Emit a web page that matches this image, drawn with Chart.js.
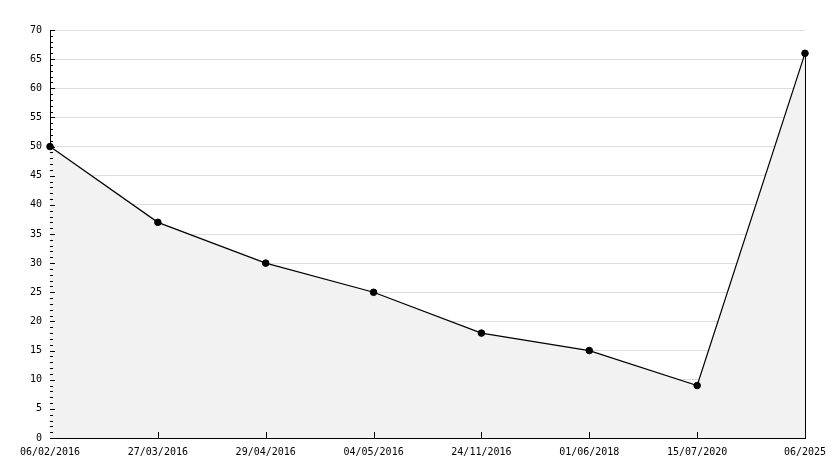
<!DOCTYPE html>
<html><head><meta charset="utf-8">
<script src="https://cdn.jsdelivr.net/npm/chart.js@4/dist/chart.umd.min.js"></script>
<style>html,body{margin:0;padding:0;background:#fff}#wrap{width:834px;height:468px}</style>
</head><body><div id="wrap"><canvas id="c" width="834" height="468"></canvas></div>
<script>
const categories = ["06/02/2016","27/03/2016","29/04/2016","04/05/2016","24/11/2016","01/06/2018","15/07/2020","06/2025"];
const values = [50, 37, 30, 25, 18, 15, 9, 66];
const yMin = 0, yMax = 70, yStep = 5;

const FONT = {family: "'DejaVu Sans Mono', monospace", size: 10};

const axisDecor = {
  id: 'axisDecor',
  afterDatasetsDraw(chart) {
    const ctx = chart.ctx, x = chart.scales.x, y = chart.scales.y;
    const ca = chart.chartArea;
    ctx.save();
    ctx.strokeStyle = '#000';
    ctx.lineWidth = 1;
    ctx.beginPath();
    for (let v = yMin; v <= yMax; v++) {
      const py = Math.round(y.getPixelForValue(v)) + 0.5;
      const len = v % yStep === 0 ? 5 : 3;
      ctx.moveTo(ca.left, py); ctx.lineTo(ca.left + len, py);
    }
    for (let i = 1; i < categories.length - 1; i++) {
      const px = Math.round(x.getPixelForValue(i)) + 0.5;
      ctx.moveTo(px, ca.bottom); ctx.lineTo(px, ca.bottom - 6);
    }
    const last = categories.length - 1;
    const lx = Math.round(x.getPixelForValue(last)) + 0.5;
    ctx.moveTo(lx, y.getPixelForValue(values[last])); ctx.lineTo(lx, ca.bottom);
    ctx.stroke();
    ctx.restore();
  }
};

new Chart(document.getElementById('c'), {
  type: 'line',
  data: {
    labels: categories,
    datasets: [{
      data: values,
      borderColor: '#000',
      borderWidth: 1.2,
      backgroundColor: '#f2f2f2',
      fill: 'origin',
      tension: 0,
      pointRadius: 3.3,
      pointBackgroundColor: '#000',
      pointBorderColor: '#000',
      pointBorderWidth: 1
    }]
  },
  options: {
    responsive: false,
    animation: false,
    devicePixelRatio: 1,
    layout: {padding: {left: 0, right: 29, top: 30, bottom: 0}},
    plugins: {legend: {display: false}, tooltip: {enabled: false}},
    scales: {
      x: {
        offset: false,
        grid: {display: false},
        border: {display: true, color: '#000', width: 1},
        ticks: {color: '#000', font: FONT, autoSkip: false, maxRotation: 0, padding: 0},
        afterFit(s) { s.height = 30; }
      },
      y: {
        min: yMin, max: yMax,
        grid: {color: '#dddddd', drawTicks: false},
        border: {display: true, color: '#000', width: 1},
        ticks: {stepSize: yStep, color: '#000', font: FONT, padding: 8},
        afterFit(s) { s.width = 50; }
      }
    }
  },
  plugins: [axisDecor]
});
</script>
</body></html>
